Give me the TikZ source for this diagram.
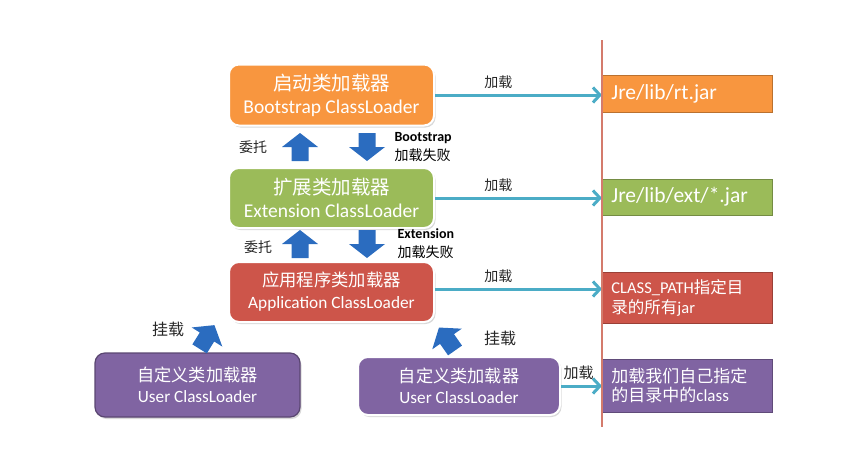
\documentclass[tikz,border=0pt]{standalone}
\usepackage{fontspec}
\setmainfont{Carlito}
\newfontfamily\cjk{Noto Sans CJK SC}
\usetikzlibrary{arrows.meta,positioning,shadows}

\definecolor{bootorange}{HTML}{F8963F}
\definecolor{extgreen}{HTML}{9BBB59}
\definecolor{appred}{HTML}{CD554A}
\definecolor{userpurple}{HTML}{8064A2}
\definecolor{loadcyan}{HTML}{4BACC6}
\definecolor{arrowblue}{HTML}{2B6CBF}
\definecolor{linered}{HTML}{D47B6C}

\tikzset{
    loader/.style={rounded corners=10pt, draw=white, line width=2pt, text=white,
        minimum width=205pt, align=center,
        drop shadow={opacity=0.3, shadow xshift=1.5pt, shadow yshift=-2pt}},
    target/.style={draw=#1!75!black, fill=#1, line width=0.8pt, text=white,
        anchor=west, minimum width=170pt, text width=152pt, inner xsep=9pt, align=left},
    loadarrow/.style={draw=loadcyan, line width=3pt, -{Straight Barb[length=7pt,width=15pt]}},
    tag/.style={font=\cjk\fontsize{14}{16}\selectfont, text=black!85},
    fat arrow/.pic={
        \fill[arrowblue] (-8.5,14) -- (-8.5,0) -- (-18,0) -- (0,-14) -- (18,0) -- (8.5,0) -- (8.5,14) -- cycle;
    }
}

\begin{document}
\begin{tikzpicture}[x=1pt, y=-1pt]
    \useasboundingbox (0,0) rectangle (867,466);

    % class loaders
    \node[loader, fill=bootorange, minimum height=61pt, font=\fontsize{19.5}{23}\selectfont] (boot) at (331.5,95)
        {{\cjk 启动类加载器}\\Bootstrap ClassLoader};
    \node[loader, fill=extgreen, minimum height=60pt, font=\fontsize{19.5}{23}\selectfont] (ext) at (331.5,198)
        {{\cjk 扩展类加载器}\\Extension ClassLoader};
    \node[loader, fill=appred, minimum height=60pt, font=\fontsize{17.3}{22}\selectfont] (app) at (331.5,292)
        {{\cjk 应用程序类加载器}\\Application ClassLoader};
    \node[loader, fill=userpurple, draw=userpurple!70!black, line width=1.2pt, minimum height=64pt,
        font=\fontsize{17.2}{21}\selectfont] (userleft) at (197.5,385)
        {{\cjk 自定义类加载器}\\User ClassLoader};
    \node[loader, fill=userpurple, minimum width=202pt, minimum height=58pt,
        font=\fontsize{17.2}{21}\selectfont] (userright) at (459,386)
        {{\cjk 自定义类加载器}\\User ClassLoader};

    % load targets
    \node[target=bootorange, minimum height=37pt, font=\fontsize{21.5}{24}\selectfont] (rtjar) at (602,93.5) {Jre/lib/rt.jar};
    \node[target=extgreen, minimum height=36pt, font=\fontsize{21.5}{24}\selectfont] (extjar) at (602,197) {Jre/lib/ext/*.jar};
    \node[target=appred, minimum height=51pt, font=\fontsize{16.5}{20}\selectfont] (cpjar) at (602,297.5)
        {CLASS\_PATH{\cjk 指定目}\\{\cjk 录的所有}jar};
    \node[target=userpurple, minimum height=53pt, font=\fontsize{17}{19}\selectfont] (userdir) at (602,385.5)
        {{\cjk 加载我们自己指定}\\{\cjk 的目录中的}class};

    \coordinate (vtop) at (602,40);
    \coordinate (vbot) at (602,427);

    % loading
    \draw[loadarrow] (boot) -- (boot -| vtop) node[pos=0.38, above=2pt, tag] (load1) {加载};
    \draw[loadarrow] (ext) -- (ext -| vtop) node[pos=0.38, above=2pt, tag] (load2) {加载};
    \draw[loadarrow] ([yshift=3pt]app.east) -- ([yshift=3pt]app.east -| vtop) node[pos=0.38, above=2pt, tag] (load3) {加载};
    \draw[loadarrow] (userright) -- (userright -| vtop) node[pos=0.43, above=1pt, tag, font=\cjk\fontsize{15}{16}\selectfont] (load4) {加载};

    \draw[linered, line width=2.2pt] (vtop) -- (vbot);

    % delegation
    \pic at (300,147) {fat arrow};
    \pic[rotate=180] at (367,147) {fat arrow};
    \pic at (300,244) {fat arrow};
    \pic[rotate=180] at (367,244) {fat arrow};
    \pic[rotate=-32] at (207,337) {fat arrow};
    \pic[rotate=35] at (447,339) {fat arrow};

    \node[tag] (up1) at (253,147) {委托};
    \node[tag] (up2) at (258,247) {委托};
    \node[anchor=west, align=left, font=\fontsize{14}{19}\selectfont] (fail1) at (391,147)
        {\textbf{Bootstrap}\\{\cjk 加载失败}};
    \node[anchor=west, align=left, font=\fontsize{14}{19}\selectfont] (fail2) at (394,244)
        {\textbf{Extension}\\{\cjk 加载失败}};
    \node[tag, font=\cjk\fontsize{16}{18}\selectfont] (mount1) at (168,329) {挂载};
    \node[tag, font=\cjk\fontsize{16}{18}\selectfont] (mount2) at (500,338) {挂载};
\end{tikzpicture}
\end{document}
